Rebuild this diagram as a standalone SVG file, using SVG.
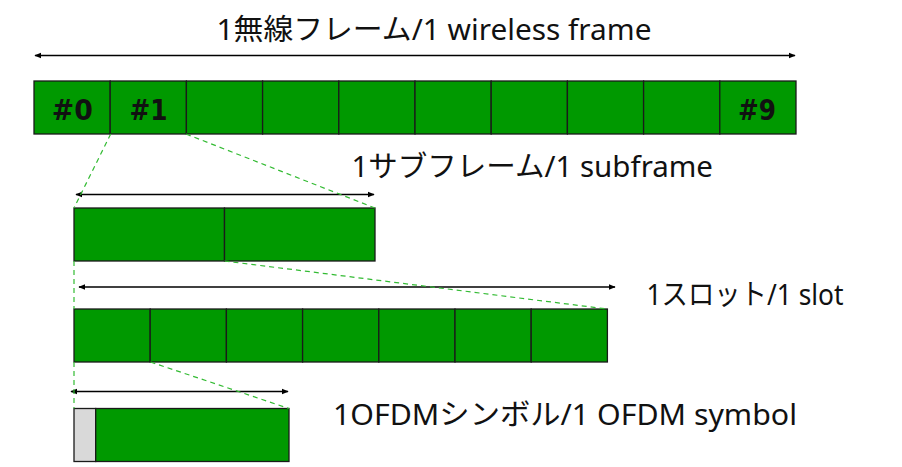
<svg xmlns="http://www.w3.org/2000/svg" width="902" height="467" viewBox="0 0 902 467">
<defs>
<marker id="ah" viewBox="0 0 10 10" refX="9" refY="5" markerWidth="7" markerHeight="7" markerUnits="userSpaceOnUse" orient="auto-start-reverse">
<path d="M0,1 L10,5 L0,9 z" fill="#000"/>
</marker>
<style>
.cell{fill:#009900;stroke:#1a1a1a;stroke-width:1.3}
.gray{fill:#d9d9d9;stroke:#1a1a1a;stroke-width:1.3}
.dim{stroke:#000;stroke-width:1.3;fill:none;marker-start:url(#ah);marker-end:url(#ah)}
.dash{stroke:#33bb33;stroke-width:1.2;stroke-dasharray:5,4;fill:none}
.lbl{font-family:"Noto Sans","Noto Sans CJK JP",sans-serif;font-size:29px;fill:#111}
.num{font-family:"DejaVu Sans","Liberation Sans",sans-serif;font-weight:bold;font-size:28px;fill:#111;text-anchor:middle}
</style>
</defs>
<g id="frame">
<rect class="cell" x="34" y="81" width="76.2" height="53"/>
<rect class="cell" x="110.2" y="81" width="76.2" height="53"/>
<rect class="cell" x="186.4" y="81" width="76.2" height="53"/>
<rect class="cell" x="262.6" y="81" width="76.2" height="53"/>
<rect class="cell" x="338.8" y="81" width="76.2" height="53"/>
<rect class="cell" x="415" y="81" width="76.2" height="53"/>
<rect class="cell" x="491.2" y="81" width="76.2" height="53"/>
<rect class="cell" x="567.4" y="81" width="76.2" height="53"/>
<rect class="cell" x="643.6" y="81" width="76.2" height="53"/>
<rect class="cell" x="719.8" y="81" width="76.2" height="53"/>
<text class="num" x="72.3" y="120" textLength="41" lengthAdjust="spacingAndGlyphs">#0</text>
<text class="num" x="148.5" y="120" textLength="38" lengthAdjust="spacingAndGlyphs">#1</text>
<text class="num" x="757" y="120" textLength="38" lengthAdjust="spacingAndGlyphs">#9</text>
</g>
<g id="subframe">
<rect class="cell" x="74" y="208" width="150.5" height="53"/>
<rect class="cell" x="224.5" y="208" width="150.5" height="53"/>
</g>
<g id="slot">
<rect class="cell" x="74" y="309" width="76.2" height="53"/>
<rect class="cell" x="150.2" y="309" width="76.2" height="53"/>
<rect class="cell" x="226.4" y="309" width="76.2" height="53"/>
<rect class="cell" x="302.6" y="309" width="76.2" height="53"/>
<rect class="cell" x="378.8" y="309" width="76.2" height="53"/>
<rect class="cell" x="455" y="309" width="76.2" height="53"/>
<rect class="cell" x="531.2" y="309" width="76.2" height="53"/>
</g>
<g id="symbol">
<rect class="gray" x="74" y="408.5" width="21.7" height="53"/>
<rect class="cell" x="95.7" y="408.5" width="193.3" height="53"/>
</g>
<g id="labels">
<text class="lbl" x="216.5" y="40" textLength="435" lengthAdjust="spacingAndGlyphs">1無線フレーム/1 wireless frame</text>
<text class="lbl" x="351.5" y="177" textLength="361.5" lengthAdjust="spacingAndGlyphs">1サブフレーム/1 subframe</text>
<text class="lbl" x="646.5" y="305" textLength="197" lengthAdjust="spacingAndGlyphs">1スロット/1 slot</text>
<text class="lbl" x="333" y="425" textLength="464" lengthAdjust="spacingAndGlyphs">1OFDMシンボル/1 OFDM symbol</text>
</g>
<g id="connectors">
<line class="dim" x1="35" y1="55.5" x2="795" y2="55.5"/>
<line class="dim" x1="76" y1="194.5" x2="374" y2="194.5"/>
<line class="dim" x1="79" y1="287" x2="615" y2="287"/>
<line class="dim" x1="71" y1="391.5" x2="288" y2="391.5"/>
<line class="dash" x1="110.7" y1="134" x2="74" y2="208"/>
<line class="dash" x1="186" y1="134" x2="375" y2="208"/>
<line class="dash" x1="74" y1="261" x2="74" y2="309"/>
<line class="dash" x1="224.5" y1="261" x2="607" y2="309"/>
<line class="dash" x1="74" y1="362" x2="74" y2="408.5"/>
<line class="dash" x1="150.5" y1="362" x2="289" y2="408.5"/>
</g>
</svg>
